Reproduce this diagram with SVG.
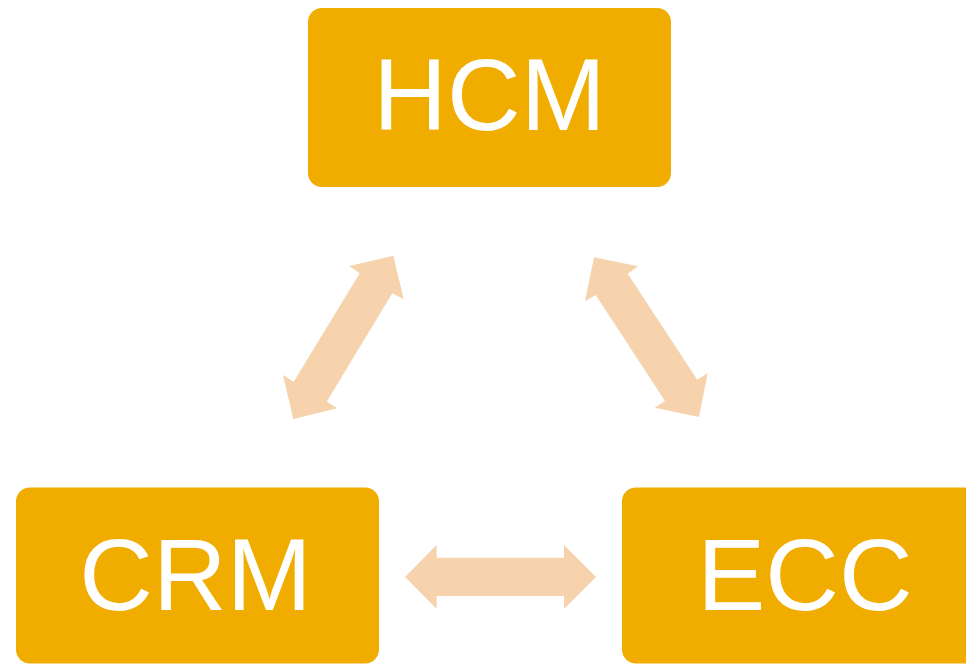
<svg xmlns="http://www.w3.org/2000/svg" width="966" height="664" viewBox="0 0 966 664">
<style>
.box{fill:#F0AD00;}
.lbl{fill:#FFFFFF;font-family:"Liberation Sans",Arial,sans-serif;font-size:102px;text-anchor:middle;}
.arr{fill:#F6D3AD;}
</style>
<rect width="966" height="664" fill="#FFFFFF"/>
<g id="connectors">
<polygon class="arr" points="393.3,255.7 403.7,299.3 392.3,293.3 326.7,401.7 337.3,408.3 293.3,419 283,375 293.7,381.7 359.7,273.3 349.3,266"/>
<polygon class="arr" points="594,257.3 638,266.3 627.7,273.7 697.3,379.7 707.7,373 699,417 654.7,407.7 665,401 595.7,295 585,301.3"/>
<polygon class="arr" points="405,577 436.7,545 436.7,557.7 564,557.7 564,545 596,577 564,609 564,596 436.7,596 436.7,609"/>
</g>
<g id="node-hcm">
<rect class="box" x="308" y="8" width="363" height="179" rx="14" ry="14"/>
<text class="lbl" x="489.5" y="130">HCM</text>
</g>
<g id="node-crm">
<rect class="box" x="16" y="487.5" width="363" height="176" rx="14" ry="14"/>
<text class="lbl" x="195.5" y="610">CRM</text>
</g>
<g id="node-ecc">
<rect class="box" x="622" y="487.5" width="363" height="176" rx="14" ry="14"/>
<text class="lbl" x="805" y="610">ECC</text>
</g>
</svg>
